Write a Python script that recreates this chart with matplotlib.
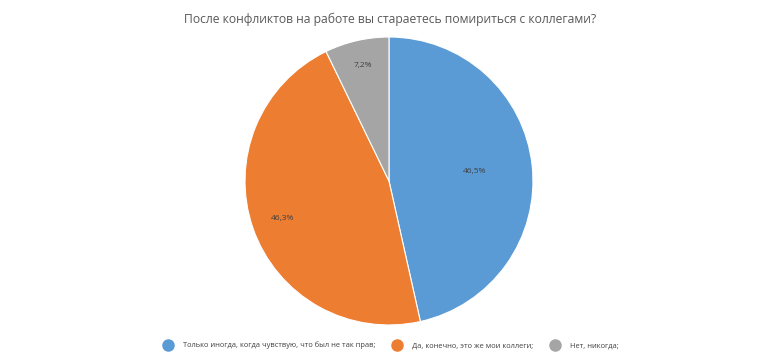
import matplotlib
matplotlib.use("Agg")
import matplotlib.pyplot as plt
from matplotlib.lines import Line2D
import numpy as np

categories = ["Только иногда, когда чувствую, что был не так прав;",
              "Да, конечно, это же мои коллеги;",
              "Нет, никогда;"]
values = [46.5, 46.3, 7.2]
labels = ["46,5%", "46,3%", "7,2%"]
colors = ["#5B9BD5", "#ED7D31", "#A5A5A5"]
label_radius = [0.6, 0.78, 0.82]

plt.rcParams['font.family'] = ['Open Sans', 'DejaVu Sans']

fig = plt.figure(figsize=(7.8, 3.63), dpi=100)
ax = fig.add_axes([0.4987 - 0.1846, 0.5014 - 0.3967, 0.3692, 0.7934])
wedges, _ = ax.pie(values, colors=colors, startangle=90, counterclock=False,
                   wedgeprops=dict(edgecolor="white", linewidth=0.8))
ax.set_aspect('equal')
ax.set_xlim(-1, 1)
ax.set_ylim(-1, 1)
for w, lab, r in zip(wedges, labels, label_radius):
    ang = np.deg2rad((w.theta1 + w.theta2) / 2)
    ax.text(r * np.cos(ang), r * np.sin(ang), lab, ha='center', va='center',
            fontsize=6, color='#404040')

fig.text(0.5, 0.948, "После конфликтов на работе вы стараетесь помириться с коллегами?",
         ha='center', va='center', fontsize=8.7, color='#595959')

handles = [Line2D([0], [0], marker='o', color='w', markerfacecolor=c,
                  markeredgecolor=c, markersize=8) for c in colors]
fig.legend(handles, categories, loc='center', bbox_to_anchor=(0.502, 0.048),
           ncol=3, frameon=False, fontsize=5.4, labelcolor='#404040',
           handletextpad=1.5, columnspacing=2.4, handlelength=1.0)

fig.savefig("out.png", dpi=100, facecolor='white')
